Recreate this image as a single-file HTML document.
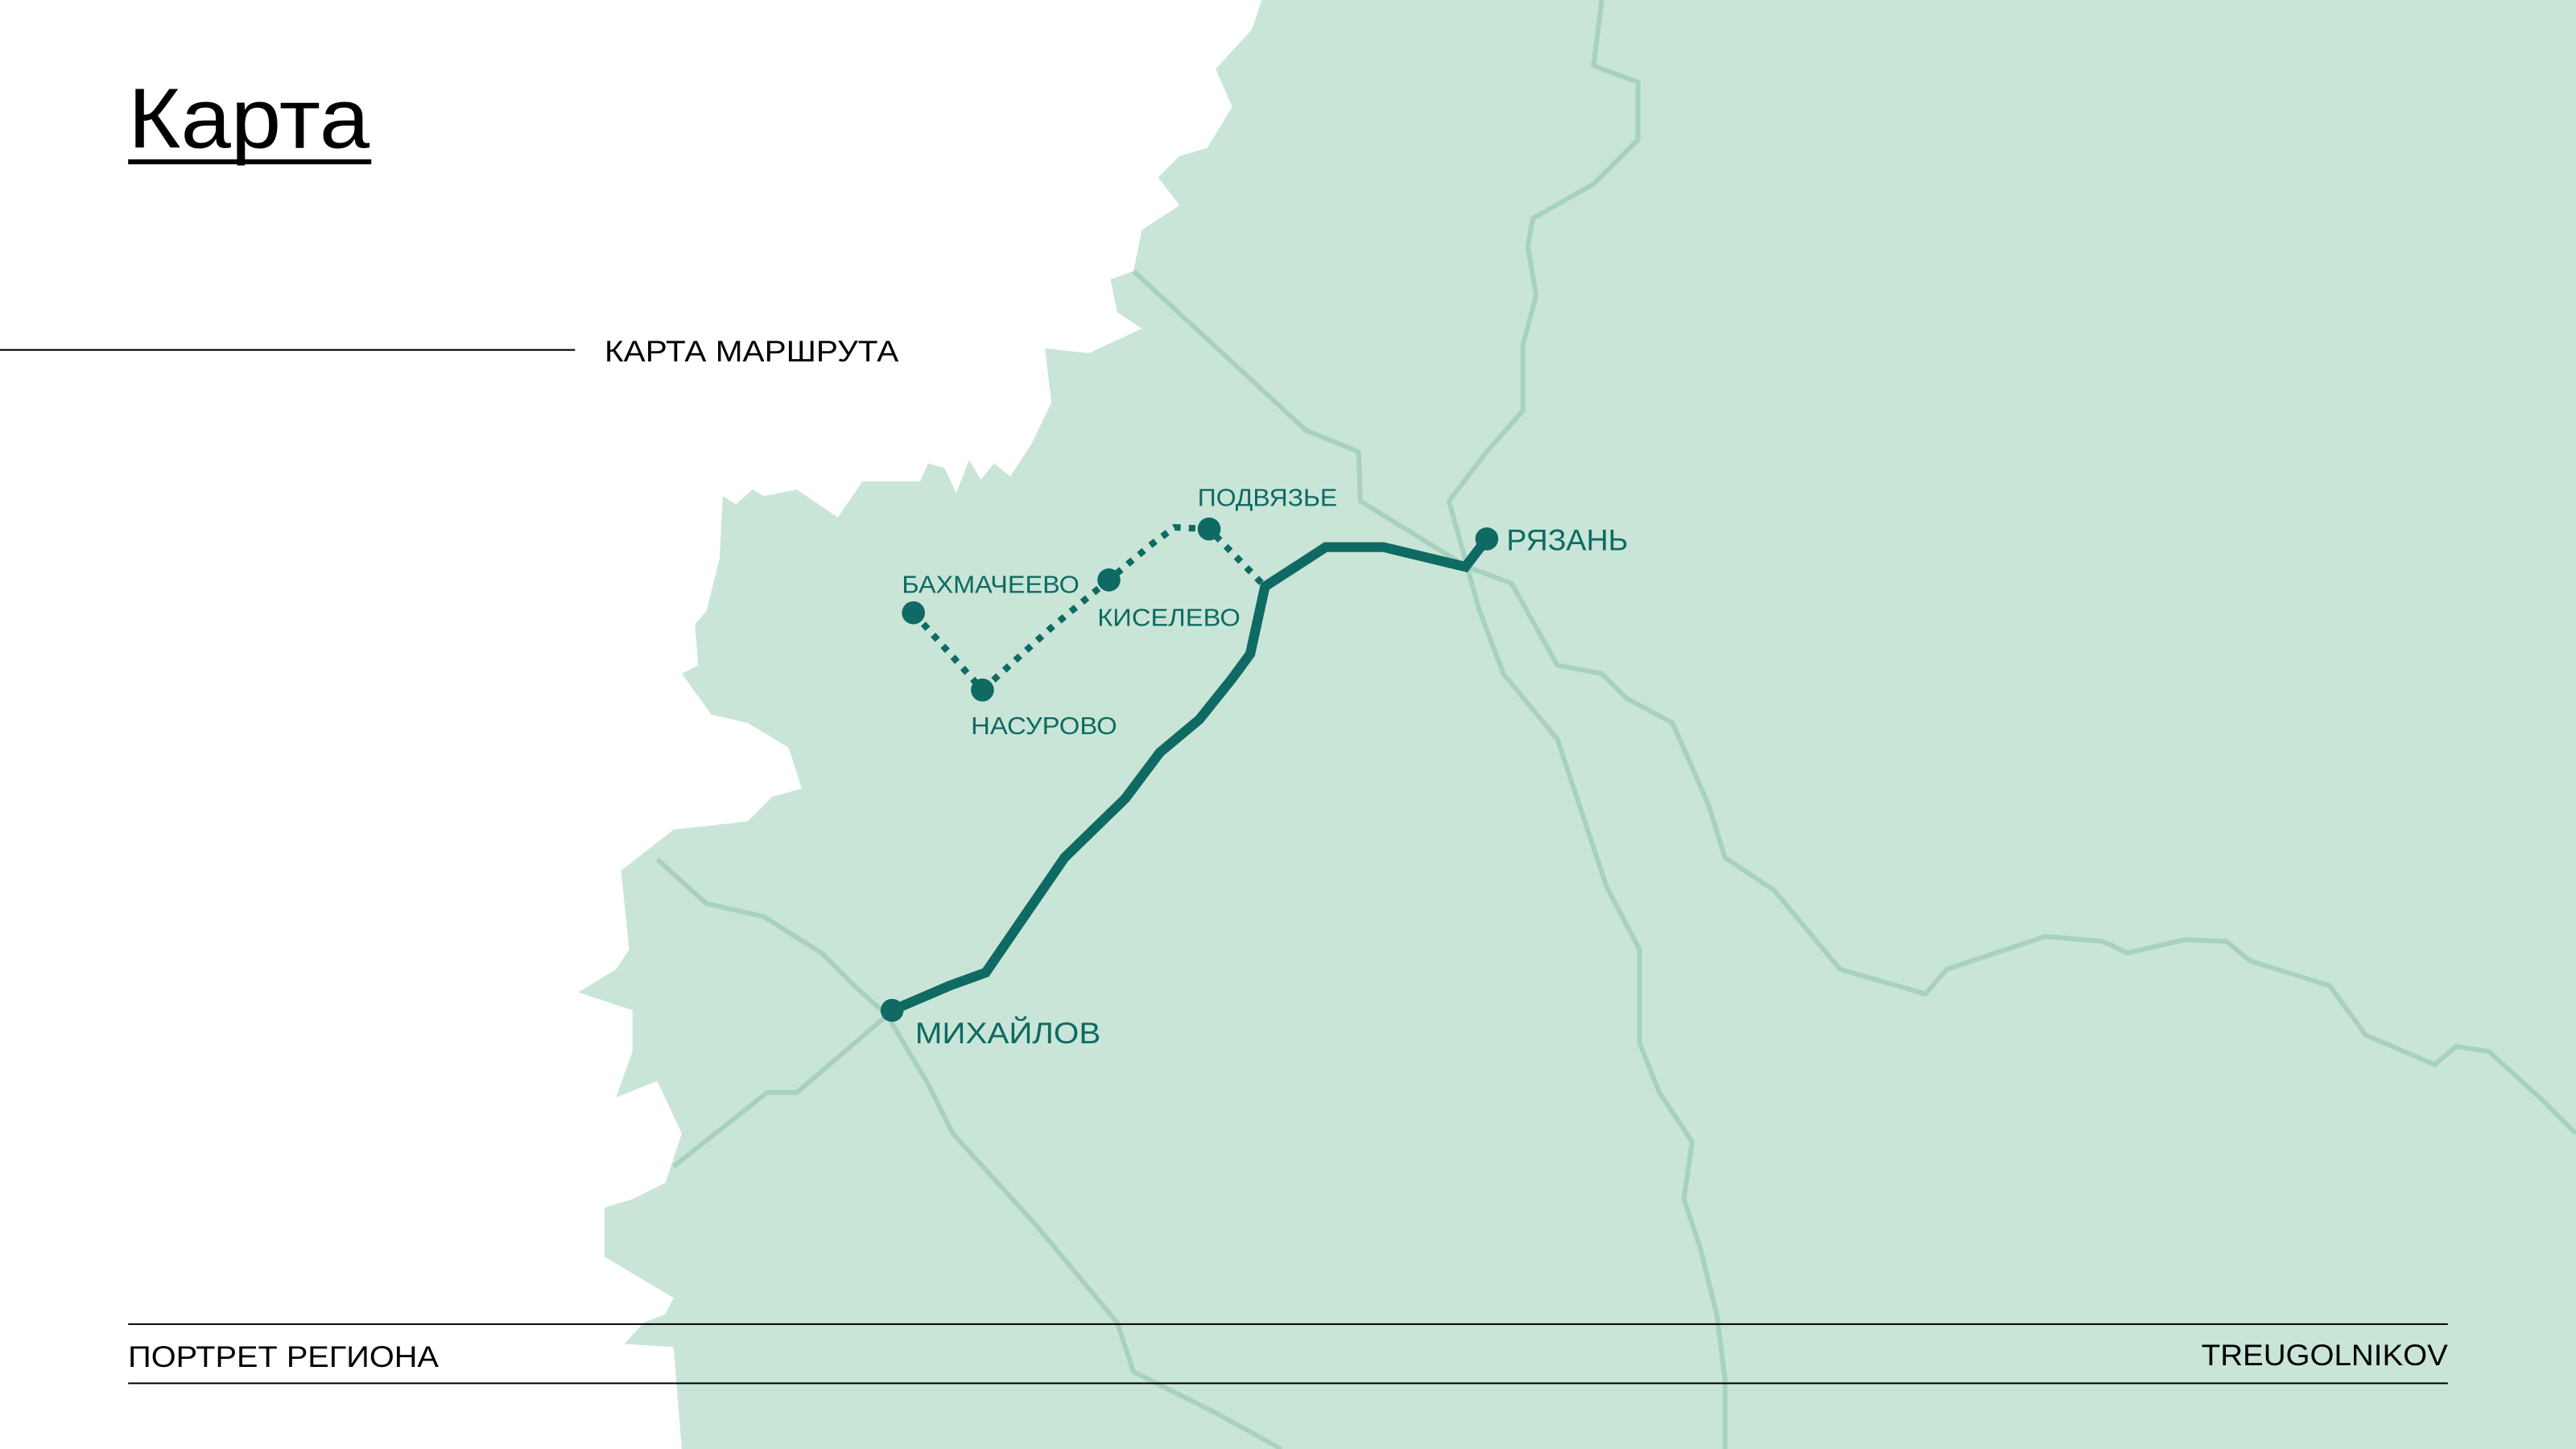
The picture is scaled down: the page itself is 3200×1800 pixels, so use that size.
<!DOCTYPE html>
<html><head><meta charset="utf-8"><style>
html,body{margin:0;padding:0;background:#fff;}
svg{display:block;}
text{font-family:"Liberation Sans",sans-serif;}
</style></head><body>
<svg width="3200" height="1800" viewBox="0 0 1568 882" xmlns="http://www.w3.org/2000/svg">
<rect width="1568" height="882" fill="#fff"/>
<path fill="#c9e5d8" d="M768,0 L762,18 L740,42 L750,65 L735,90 L718,95 L705,108 L718,125 L695,140 L690,165 L676,170 L680,190 L695,200 L663,215 L636,212 L640,245 L628,270 L615,290 L605,282 L597,292 L590,280 L582,300 L575,285 L565,282 L560,293 L525,293 L510,315 L485,298 L465,302 L458,298 L448,307 L440,302 L438,340 L430,372 L423,380 L425,405 L415,410 L433,435 L455,440 L480,455 L488,480 L470,485 L455,500 L410,505 L378,530 L383,578 L375,590 L352,604 L385,615 L385,640 L375,668 L400,658 L415,690 L405,720 L385,730 L368,735 L368,765 L410,790 L405,800 L392,805 L380,818 L410,820 L415,882 L1568,882 L1568,0 Z"/>
<g fill="none" stroke="#a8d2bf" stroke-width="3" stroke-linejoin="round">
<polyline points="690,165 795,262 827,275 828,305 893,345 920,355 948,405 975,410 990,425 1018,440 1040,490 1050,522 1080,542 1095,560 1120,590 1172,605 1185,590 1245,570 1280,573 1295,580 1330,572 1355,573 1370,585 1418,600 1440,630 1482,648 1495,637 1515,640 1548,670 1568,690"/>
<polyline points="975,0 970,40 997,50 997,85 970,112 933,133 930,150 935,180 927,210 927,250 905,275 882,305 900,370 915,410 948,450 978,540 998,578 998,635 1010,665 1030,695 1025,730 1035,760 1045,800 1050,840 1050,882"/>
<polyline points="400,523 430,550 465,558 500,580 520,600 540,618 565,660 580,690 630,745 680,805 690,835 740,860 780,882"/>
<polyline points="410,710 467,665 485,665 540,618"/>
</g>
<polyline fill="none" stroke="#0e6a63" stroke-width="6" stroke-linejoin="miter" points="543,615 578,600 600,592 648,522 685,486 706,458 730,438 750,413 761,398 770,357 807,333 842,333 892,345 905,328"/>
<polyline fill="none" stroke="#0e6a63" stroke-width="4" stroke-dasharray="4,5" points="556,373 598,420 640,382 675,353 700,332 715,321 736,322 768,355"/>
<g fill="#0e6a63">
<circle cx="556" cy="373" r="7"/><circle cx="598" cy="420" r="7"/><circle cx="675" cy="353" r="7"/>
<circle cx="736" cy="322" r="7"/><circle cx="905" cy="328" r="7"/><circle cx="543" cy="615" r="7"/>
</g>
<g fill="#0e6a63" font-size="15">
<text x="729" y="308" textLength="85" lengthAdjust="spacingAndGlyphs">ПОДВЯЗЬЕ</text>
<text x="549" y="361" textLength="108" lengthAdjust="spacingAndGlyphs">БАХМАЧЕЕВО</text>
<text x="668" y="381" textLength="87" lengthAdjust="spacingAndGlyphs">КИСЕЛЕВО</text>
<text x="591" y="447" textLength="89" lengthAdjust="spacingAndGlyphs">НАСУРОВО</text>
<text x="917" y="335" font-size="18" textLength="74" lengthAdjust="spacingAndGlyphs">РЯЗАНЬ</text>
<text x="557" y="635" font-size="18" textLength="113" lengthAdjust="spacingAndGlyphs">МИХАЙЛОВ</text>
</g>
<text x="78" y="90" font-size="52" fill="#000" textLength="147" lengthAdjust="spacingAndGlyphs">Карта</text>
<rect x="78" y="97" width="148" height="3" fill="#000"/>
<line x1="0" y1="213" x2="350" y2="213" stroke="#000" stroke-width="1"/>
<text x="368" y="220" font-size="18" fill="#000" textLength="179" lengthAdjust="spacingAndGlyphs">КАРТА МАРШРУТА</text>
<line x1="78" y1="806" x2="1490" y2="806" stroke="#000" stroke-width="1"/>
<line x1="78" y1="842" x2="1490" y2="842" stroke="#000" stroke-width="1"/>
<text x="78" y="832" font-size="18" fill="#000" textLength="189" lengthAdjust="spacingAndGlyphs">ПОРТРЕТ РЕГИОНА</text>
<text x="1340" y="831" font-size="18" fill="#000" textLength="150" lengthAdjust="spacingAndGlyphs">TREUGOLNIKOV</text>
</svg>
</body></html>
